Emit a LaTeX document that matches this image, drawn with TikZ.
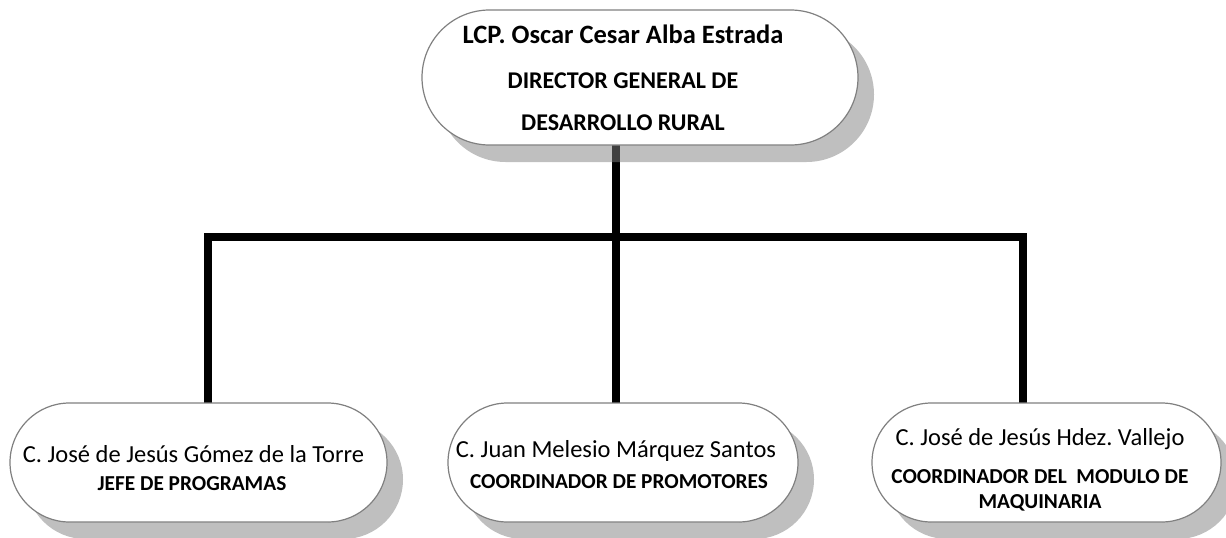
\documentclass[tikz,border=0pt]{standalone}
\usepackage{fontspec}
\setmainfont{Carlito}
\usetikzlibrary{shapes.misc,shadows,backgrounds}
\begin{document}
\frenchspacing
\begin{tikzpicture}[x=1pt,y=-1pt,
  box/.style={rounded rectangle, draw=black!50, line width=1.2pt, fill=white,
    inner sep=0pt, outer sep=0pt,
    drop shadow={shadow xshift=16pt, shadow yshift=-17pt, fill=black!50, opacity=0.5}},
  conn/.style={line width=8pt, line join=miter, line cap=butt},
  txt/.style={anchor=base, inner sep=0pt},
  nameA/.style={txt, font=\fontsize{26.5}{30}\selectfont\bfseries},
  titleA/.style={txt, font=\fontsize{24}{28}\selectfont\bfseries},
  nameB/.style={txt, font=\fontsize{24.5}{30}\selectfont},
  titleB/.style={txt, font=\fontsize{21.3}{25}\selectfont\bfseries}]
\useasboundingbox (0,0) rectangle (1226,538);
% boxes
\node[box, minimum width=436pt, minimum height=135pt] (top) at (640,77.5) {};
\node[box, minimum width=377pt, minimum height=119pt] (left) at (198.5,462.5) {};
\node[box, minimum width=350pt, minimum height=119pt] (mid) at (623,462.5) {};
\node[box, minimum width=349pt, minimum height=119pt] (right) at (1046.5,462.5) {};
% texts
\node[nameA] (t1) at (623,43) {LCP. Oscar Cesar Alba Estrada};
\node[titleA] (t2) at (623,88) {DIRECTOR GENERAL DE};
\node[titleA] (t3) at (623,130) {DESARROLLO RURAL};
\node[nameB] (l1) at (193.5,462) {C. José de Jesús Gómez de la Torre};
\node[titleB] (l2) at (192,490) {JEFE DE PROGRAMAS};
\node[nameB] (m1) at (616,457) {C. Juan Melesio Márquez Santos};
\node[titleB] (m2) at (619,488) {COORDINADOR DE PROMOTORES};
\node[nameB] (r1) at (1040,445) {C. José de Jesús Hdez. Vallejo};
\node[titleB] (r2) at (1040,483) {COORDINADOR DEL\ \ MODULO DE};
\node[titleB] (r3) at (1040,508) {MAQUINARIA};
% junctions
\coordinate (jL) at (207.5,237);
\coordinate (jM) at (616,237);
\coordinate (jR) at (1023,237);
\begin{scope}[on background layer]
\draw[conn] (jM |- top.south) -- (jM);
\draw[conn] (jL |- left.north) -- (jL) -- (jR) -- (jR |- right.north);
\draw[conn] (jM) -- (jM |- mid.north);
\end{scope}
\end{tikzpicture}
\end{document}
